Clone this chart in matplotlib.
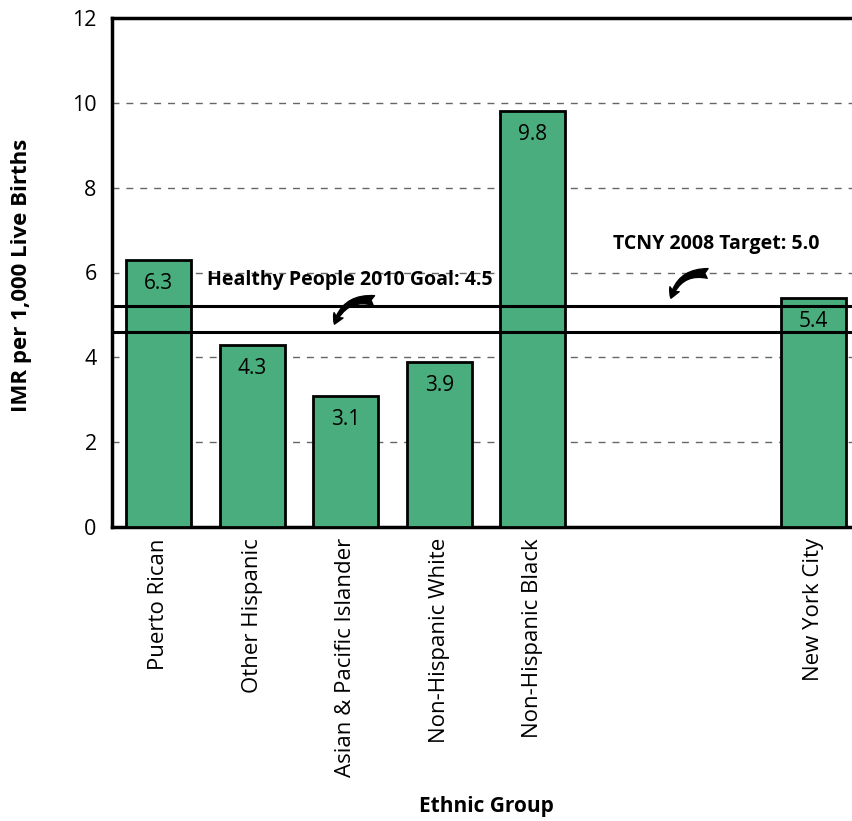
import matplotlib.pyplot as plt

# data
groups = ['Puerto Rican', 'Other Hispanic', 'Asian & Pacific Islander',
          'Non-Hispanic White', 'Non-Hispanic Black', 'New York City']
slots = [0, 1, 2, 3, 4, 7]
imr = [6.3, 4.3, 3.1, 3.9, 9.8, 5.4]
goal_line = 4.6     # Healthy People 2010 Goal line as drawn
target_line = 5.2   # TCNY 2008 Target line as drawn
goal_text = 'Healthy People 2010 Goal: 4.5'
target_text = 'TCNY 2008 Target: 5.0'

plt.rcParams['font.family'] = ['Open Sans', 'DejaVu Sans']

fig = plt.figure(figsize=(8.53, 8.21), dpi=100)
ax = fig.add_axes([112 / 853, 1 - 527 / 821, 748 / 853, 509 / 821])

ax.bar(slots, imr, width=0.7, color='#49AD7D', edgecolor='black',
       linewidth=2, zorder=3)
for x, v in zip(slots, imr):
    ax.annotate(f'{v:.1f}', (x, v), xytext=(0, -17), textcoords='offset points',
                ha='center', va='center', fontsize=15, zorder=5)

ax.set_xlim(-0.5, 7.5)
ax.set_ylim(0, 12)
ax.set_yticks([0, 2, 4, 6, 8, 10, 12])
for y in [2, 4, 6, 8, 10]:
    ax.axhline(y, color='#666666', linestyle=(0, (5, 5)), linewidth=1, zorder=1)

ax.axhline(target_line, color='black', linewidth=2.2, zorder=4)
ax.axhline(goal_line, color='black', linewidth=2.2, zorder=4)

ax.text(2.04, 5.83, goal_text, ha='center', va='center', fontsize=14,
        fontweight='bold', zorder=6)
ax.text(5.96, 6.67, target_text, ha='center', va='center', fontsize=14,
        fontweight='bold', zorder=6)
arrow = dict(arrowstyle='fancy,head_length=0.7,head_width=0.75,tail_width=0.7',
             connectionstyle='arc3,rad=0.45', color='black')
ax.annotate('', xy=(1.87, 4.72), xytext=(2.33, 5.33), arrowprops=arrow, zorder=6)
ax.annotate('', xy=(5.47, 5.33), xytext=(5.9, 5.97), arrowprops=arrow, zorder=6)

ax.set_xticks(slots)
ax.set_xticklabels(groups, rotation=90, fontsize=16)
ax.tick_params(axis='both', length=0)
ax.tick_params(axis='y', labelsize=15.5, pad=11)
ax.tick_params(axis='x', pad=8)
for s in ['left', 'bottom', 'top']:
    ax.spines[s].set_linewidth(2.5)
ax.spines['right'].set_visible(False)

fig.text(22 / 853, 1 - 275 / 821, 'IMR per 1,000 Live Births', rotation=90,
         ha='center', va='center', fontsize=16, fontweight='bold')
fig.text(486 / 853, 1 - 806 / 821, 'Ethnic Group', ha='center',
         va='center', fontsize=15, fontweight='bold')

fig.savefig('out.png', dpi=100)
